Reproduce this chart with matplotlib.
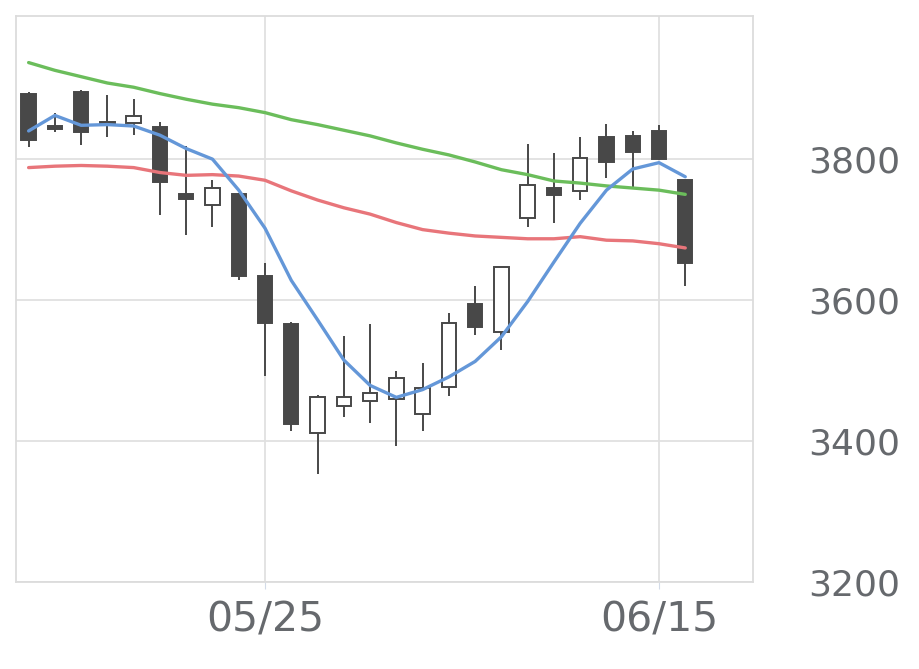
import matplotlib
matplotlib.use("Agg")
import matplotlib.pyplot as plt

# trading days shown on the chart
dates = ["05/12", "05/13", "05/14", "05/15", "05/18", "05/19", "05/20", "05/21", "05/22",
         "05/25", "05/26", "05/27", "05/28", "05/29", "06/01", "06/02", "06/03", "06/04",
         "06/05", "06/08", "06/09", "06/10", "06/11", "06/12", "06/15", "06/16"]

opens = [3893, 3847, 3895, 3852, 3851, 3845, 3750, 3735, 3750, 3634, 3566, 3412, 3450,
         3457, 3460, 3438, 3476, 3595, 3555, 3716, 3759, 3755, 3831, 3833, 3840, 3771]
closes = [3827, 3843, 3839, 3851, 3861, 3768, 3744, 3759, 3634, 3568, 3424, 3463, 3463,
          3468, 3489, 3475, 3567, 3562, 3647, 3763, 3749, 3802, 3796, 3810, 3800, 3653]
highs = [3895, 3866, 3898, 3891, 3886, 3853, 3818, 3771, 3752, 3652, 3569, 3465, 3549,
         3566, 3499, 3511, 3582, 3620, 3647, 3821, 3809, 3831, 3850, 3840, 3848, 3771]
lows = [3817, 3839, 3820, 3832, 3834, 3721, 3692, 3704, 3629, 3492, 3414, 3353, 3434,
        3426, 3393, 3414, 3464, 3551, 3529, 3704, 3710, 3742, 3773, 3761, 3799, 3620]

ma_short = [3840, 3862, 3848, 3849, 3847, 3834, 3815, 3800, 3756, 3702, 3628, 3572, 3515,
            3479, 3462, 3473, 3491, 3513, 3548, 3598, 3654, 3709, 3756, 3786, 3795, 3775]
ma_mid = [3788, 3790, 3791, 3790, 3788, 3781, 3777, 3778, 3776, 3770, 3755, 3742, 3731,
          3722, 3710, 3700, 3695, 3691, 3689, 3687, 3687, 3690, 3685, 3684, 3680, 3674]
ma_long = [3937, 3926, 3917, 3908, 3902, 3893, 3885, 3878, 3873, 3866, 3856, 3849, 3841,
           3833, 3823, 3814, 3806, 3796, 3785, 3778, 3769, 3766, 3762, 3759, 3756, 3750]

tick_dates = ["05/25", "06/15"]
y_ticks = [3200, 3400, 3600, 3800]

candle_dark = "#484848"
grid_color = "#e0e0e0"
text_color = "#66696d"

fig = plt.figure(figsize=(9.2, 6.69), dpi=100)
ax = fig.add_axes([0.0174, 0.130, 0.8011, 0.846])

x = list(range(len(dates)))
width = 0.55
for i in x:
    o, c, h, l = opens[i], closes[i], highs[i], lows[i]
    ax.vlines(i, l, h, color=candle_dark, linewidth=1.4, zorder=2)
    bottom = min(o, c)
    height = max(abs(c - o), 1.2)
    face = candle_dark if c < o else "white"
    ax.bar(i, height, width=width, bottom=bottom, color=face,
           edgecolor=candle_dark, linewidth=1.4, zorder=3)

ax.plot(x, ma_mid, color="#e8757a", linewidth=2.4, zorder=4, solid_capstyle="round")
ax.plot(x, ma_long, color="#6bbd5b", linewidth=2.4, zorder=4, solid_capstyle="round")
ax.plot(x, ma_short, color="#6497d8", linewidth=2.4, zorder=5, solid_capstyle="round")

ax.set_xlim(-0.48, 27.58)
ax.set_ylim(3200, 4003)

ax.set_xticks([dates.index(d) for d in tick_dates])
ax.set_xticklabels(tick_dates)
ax.set_yticks(y_ticks)
ax.yaxis.tick_right()

ax.grid(True, color=grid_color, linewidth=1.3, zorder=0)
ax.set_axisbelow(True)
for s in ax.spines.values():
    s.set_color("#dcdcdc")
    s.set_linewidth(1.3)

ax.tick_params(axis="y", length=0, pad=40, labelsize=26, labelcolor=text_color)
ax.tick_params(axis="x", length=5, color="#d3dbe8", pad=8, labelsize=29.5,
               labelcolor=text_color)

fig.savefig("out.png", dpi=100)
